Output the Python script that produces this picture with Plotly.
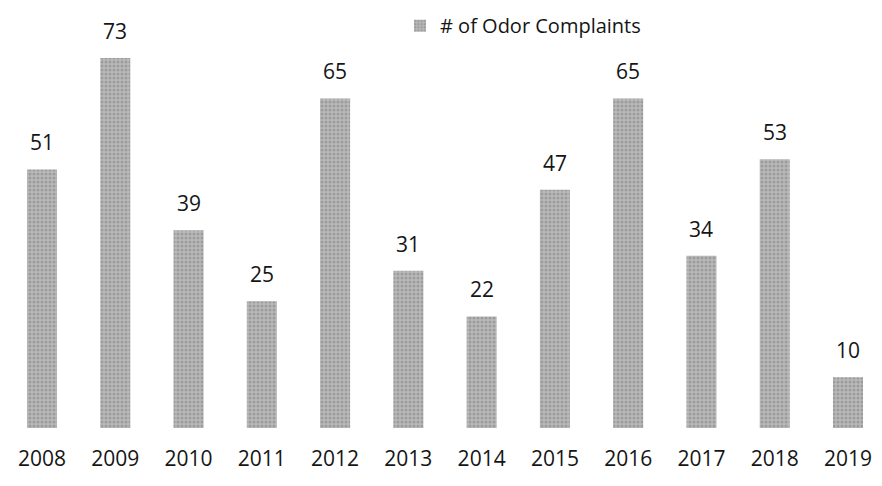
import plotly.graph_objects as go

years = ["2008", "2009", "2010", "2011", "2012", "2013", "2014", "2015", "2016", "2017", "2018", "2019"]
complaints = [51, 73, 39, 25, 65, 31, 22, 47, 65, 34, 53, 10]
series_name = "# of Odor Complaints"

FONT = "Open Sans, Lato, sans-serif"
BAR_COLOR = "#a3a3a3"
TEXT_COLOR = "#151515"

idx = list(range(len(years)))

fig = go.Figure()
fig.add_trace(go.Bar(
    x=idx, y=complaints, name=series_name,
    marker=dict(color=BAR_COLOR, line=dict(width=0),
                pattern=dict(shape=".", fgcolor="#7f7f7f", bgcolor="#b9b9b9", size=4, solidity=0.45)),
    showlegend=True,
))
for i, v in zip(idx, complaints):
    fig.add_annotation(x=i, y=v, text=str(v), showarrow=False, yanchor="bottom",
                       yshift=11, font=dict(family=FONT, size=21, color=TEXT_COLOR))

fig.update_layout(
    width=874, height=478,
    margin=dict(l=0, r=0, t=20, b=58, autoexpand=False),
    paper_bgcolor="white", plot_bgcolor="white",
    bargap=0.59,
    font=dict(family=FONT, color=TEXT_COLOR),
    showlegend=True,
    legend=dict(orientation="h", x=392 / 874, xanchor="left", yref="container", y=0.963, yanchor="middle",
                font=dict(family=FONT, size=20, color=TEXT_COLOR), itemwidth=30,
                bgcolor="rgba(0,0,0,0)"),
    xaxis=dict(range=[-0.464, 11.464], tickmode="array", tickvals=idx, ticktext=years,
               showgrid=False, showline=False, zeroline=False, ticks="",
               tickfont=dict(family=FONT, size=21, color=TEXT_COLOR), ticklabelstandoff=16),
    yaxis=dict(range=[0, 78.9], showgrid=False, showline=False, zeroline=False,
               showticklabels=False, ticks=""),
)
fig.write_html("out.html")
